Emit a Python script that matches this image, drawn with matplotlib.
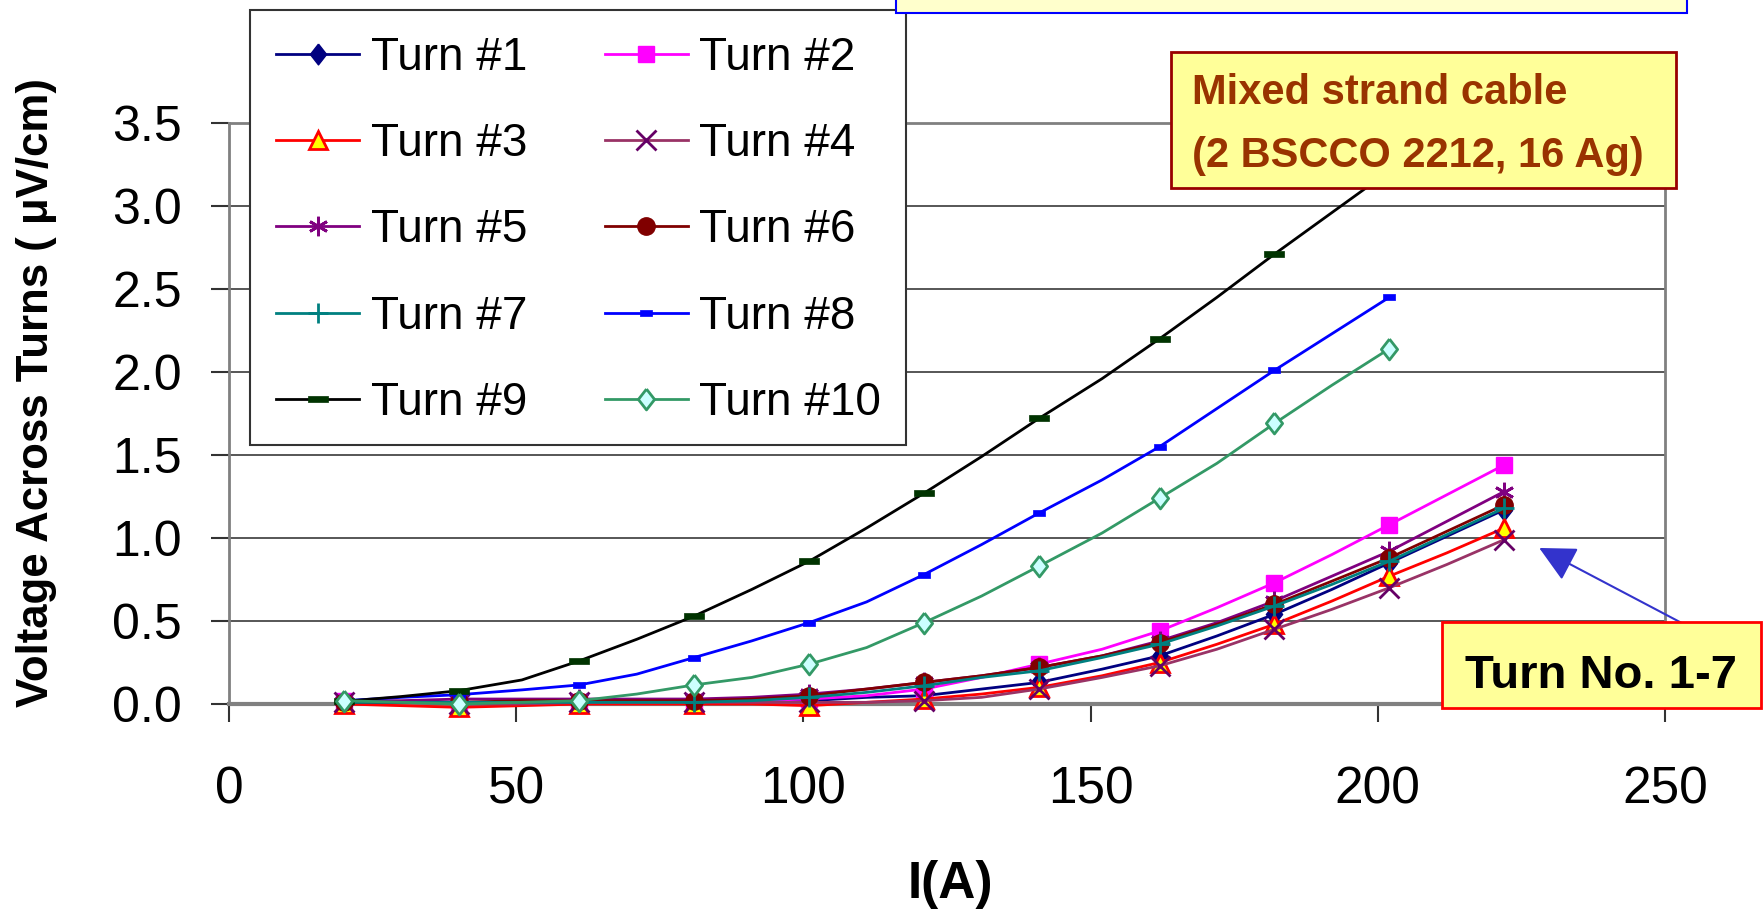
import matplotlib
matplotlib.use('Agg')
import matplotlib.pyplot as plt
from matplotlib.patches import Rectangle
from matplotlib.ticker import FormatStrFormatter

plt.rcParams['font.family'] = ['Liberation Sans', 'DejaVu Sans']

# ---------------- data ----------------
current_a = [20, 30, 40, 51, 61, 71, 81, 91, 101, 111, 121, 131, 141, 152,
             162, 172, 182, 192, 202, 212, 222]
current_b = [20, 30, 40, 51, 61, 71, 81, 91, 101, 111, 121, 131, 141, 152,
             162, 172, 182, 192, 202]

turn1 = [0.01, 0.01, 0.01, 0.01, 0.01, 0.01, 0.01, 0.01, 0.02, 0.04, 0.05,
         0.09, 0.13, 0.21, 0.29, 0.41, 0.54, 0.69, 0.85, 1.01, 1.17]
turn2 = [0.02, 0.01, 0.01, 0.01, 0.01, 0.01, 0.01, 0.02, 0.03, 0.05, 0.09,
         0.16, 0.24, 0.33, 0.44, 0.58, 0.73, 0.90, 1.08, 1.26, 1.44]
turn3 = [0.00, -0.01, -0.02, -0.01, 0.00, 0.00, 0.00, 0.00, -0.01, 0.01, 0.03,
         0.06, 0.10, 0.17, 0.25, 0.36, 0.48, 0.62, 0.77, 0.91, 1.06]
turn4 = [0.01, 0.01, 0.00, 0.00, 0.01, 0.01, 0.01, 0.01, 0.01, 0.01, 0.02,
         0.04, 0.09, 0.16, 0.23, 0.33, 0.45, 0.57, 0.70, 0.84, 0.99]
turn5 = [0.02, 0.02, 0.03, 0.03, 0.03, 0.03, 0.03, 0.04, 0.06, 0.09, 0.13,
         0.17, 0.22, 0.29, 0.38, 0.49, 0.62, 0.77, 0.92, 1.10, 1.28]
turn6 = [0.01, 0.01, 0.01, 0.02, 0.02, 0.02, 0.02, 0.03, 0.05, 0.09, 0.13,
         0.17, 0.22, 0.29, 0.37, 0.48, 0.60, 0.74, 0.88, 1.04, 1.20]
turn7 = [0.01, 0.01, 0.01, 0.01, 0.01, 0.01, 0.01, 0.02, 0.04, 0.07, 0.11,
         0.16, 0.20, 0.28, 0.36, 0.47, 0.59, 0.72, 0.86, 1.02, 1.18]
turn8 = [0.02, 0.04, 0.056, 0.085, 0.115, 0.18, 0.28, 0.38, 0.49, 0.615,
         0.78, 0.96, 1.15, 1.35, 1.55, 1.78, 2.01, 2.23, 2.45]
turn9 = [0.016, 0.045, 0.08, 0.145, 0.26, 0.39, 0.53, 0.69, 0.86, 1.06,
         1.27, 1.49, 1.72, 1.96, 2.20, 2.45, 2.71, 2.96, 3.21]
turn10 = [0.02, 0.01, 0.00, 0.01, 0.02, 0.06, 0.115, 0.16, 0.24, 0.34,
          0.49, 0.65, 0.83, 1.03, 1.24, 1.45, 1.69, 1.92, 2.14]

labels = ['Turn #1', 'Turn #2', 'Turn #3', 'Turn #4', 'Turn #5',
          'Turn #6', 'Turn #7', 'Turn #8', 'Turn #9', 'Turn #10']
x_ticks = [0, 50, 100, 150, 200, 250]
y_ticks = [0.0, 0.5, 1.0, 1.5, 2.0, 2.5, 3.0, 3.5]

x_label = 'I(A)'
y_label = 'Voltage Across Turns ( \u03bcV/cm)'
note_cable = ['Mixed strand cable', '(2 BSCCO 2212, 16 Ag)']
note_turns = 'Turn No. 1-7'

# ---------------- styles ----------------
diamond_tall = [(0, 1), (0.78, 0), (0, -1), (-0.78, 0), (0, 1)]
rect_small = [(-1, -0.55), (1, -0.55), (1, 0.55), (-1, 0.55), (-1, -0.55)]
rect_flat = [(-1, -0.3), (1, -0.3), (1, 0.3), (-1, 0.3), (-1, -0.3)]
styles = [
    dict(color='#000080', marker=diamond_tall, ms=15, mfc='#000080', mec='#000080', mew=1),
    dict(color='#FF00FF', marker='s', ms=12, mfc='#FF00FF', mec='#FF00FF', mew=1),
    dict(color='#FF0000', marker='^', ms=13, mfc='#FFFF00', mec='#FF0000', mew=2),
    dict(color='#993366', marker='x', ms=14, mfc='none', mec='#660066', mew=2),
    dict(color='#800080', marker=(6, 2, 0), ms=14, mfc='none', mec='#800080', mew=2),
    dict(color='#800000', marker='o', ms=12.5, mfc='#800000', mec='#800000', mew=1),
    dict(color='#008080', marker='+', ms=15, mfc='none', mec='#008080', mew=2),
    dict(color='#0000FF', marker=rect_small, ms=8.5, mfc='#0000FF', mec='#0000FF', mew=0.5),
    dict(color='#000000', marker=rect_flat, ms=14.5, mfc='#003300', mec='#003300', mew=0.5),
    dict(color='#339966', marker=diamond_tall, ms=15, mfc='#CCFFFF', mec='#339966', mew=2),
]

W, H = 1763, 913
fig = plt.figure(figsize=(W / 100, H / 100), dpi=100)
ax = fig.add_axes([229 / W, 1 - 704 / H, (1665 - 229) / W, (704 - 123) / H])

series = [(current_a, turn1), (current_a, turn2), (current_a, turn3),
          (current_a, turn4), (current_a, turn5), (current_a, turn6),
          (current_a, turn7), (current_b, turn8), (current_b, turn9),
          (current_b, turn10)]

handles = []
for (xs, ys), lab, st in zip(series, labels, styles):
    ln, = ax.plot(xs, ys, label=lab, lw=2.0, markevery=2, clip_on=False,
                  zorder=3, **st)
    handles.append(ln)

ax.set_xlim(0, 250)
ax.set_ylim(0, 3.5)
ax.set_xticks(x_ticks)
ax.set_yticks(y_ticks)
ax.yaxis.set_major_formatter(FormatStrFormatter('%.1f'))
ax.yaxis.grid(True, color='#3a3a3a', lw=1.2)
ax.set_axisbelow(True)
for side in ['left', 'right', 'top']:
    ax.spines[side].set_color('#808080')
    ax.spines[side].set_linewidth(2)
ax.spines['bottom'].set_color('#808080')
ax.spines['bottom'].set_linewidth(3)
ax.tick_params(axis='both', direction='out', length=13, width=1.5, color='#333333')
ax.tick_params(axis='x', labelsize=37, pad=31)
ax.tick_params(axis='y', labelsize=36, pad=21)

fig.text(950 / W, 1 - 898 / H, x_label, fontsize=37, fontweight='bold',
         ha='center', va='baseline')
fig.text(37 / W, 1 - 393 / H, y_label, fontsize=31.5, fontweight='bold',
         rotation=90, ha='center', va='center')

# legend frame drawn explicitly, entries filled row by row
fig.add_artist(Rectangle((250 / W, 1 - 445 / H), (906 - 250) / W, (445 - 10) / H,
                         transform=fig.transFigure, facecolor='white',
                         edgecolor='#333333', lw=1.5, zorder=9))
order = [0, 2, 4, 6, 8, 1, 3, 5, 7, 9]
leg = fig.legend([handles[i] for i in order], [labels[i] for i in order],
                 loc='upper left', bbox_to_anchor=(250 / W, 1 - 10 / H),
                 bbox_transform=fig.transFigure, ncol=2, fontsize=33,
                 frameon=False, borderpad=0.57, labelspacing=0.92,
                 handlelength=1.81, handletextpad=0.25, columnspacing=1.7,
                 borderaxespad=0)
leg.set_zorder(10)

# top (cut-off) box
fig.add_artist(Rectangle((896 / W, 1 - 13 / H), (1687 - 896) / W, 30 / H,
                         transform=fig.transFigure, facecolor='#FFFFCC',
                         edgecolor='#0000FF', lw=1.5, zorder=11))

# cable note
fig.add_artist(Rectangle((1171 / W, 1 - 188 / H), (1676 - 1171) / W, (188 - 52) / H,
                         transform=fig.transFigure, facecolor='#FFFF99',
                         edgecolor='#990000', lw=2, zorder=11))
fig.text(1192 / W, 1 - 104 / H, note_cable[0], fontsize=30, fontweight='bold',
         color='#993300', ha='left', va='baseline', zorder=12)
fig.text(1192 / W, 1 - 167 / H, note_cable[1], fontsize=30, fontweight='bold',
         color='#993300', ha='left', va='baseline', zorder=12)

# arrow + turn note
ax.annotate('', xy=(228.1, 0.94), xytext=(252.8, 0.49),
            arrowprops=dict(arrowstyle='-|>,head_length=0.9,head_width=0.45',
                            color='#3333CC', lw=1.5, shrinkA=0, shrinkB=0,
                            mutation_scale=25),
            annotation_clip=False, zorder=9)
fig.add_artist(Rectangle((1442 / W, 1 - 708 / H), (1761 - 1442) / W, (708 - 622) / H,
                         transform=fig.transFigure, facecolor='#FFFF99',
                         edgecolor='#FF0000', lw=2, zorder=11))
fig.text(1601 / W, 1 - 688 / H, note_turns, fontsize=34, fontweight='bold',
         color='black', ha='center', va='baseline', zorder=12)

fig.savefig('out.png', dpi=100)
